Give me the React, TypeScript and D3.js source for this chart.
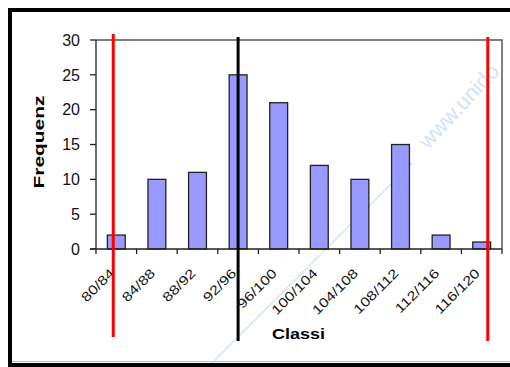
import React from "react";
import * as d3 from "d3";

// Histogram classes and their frequencies
const classes = ["80/84", "84/88", "88/92", "92/96", "96/100", "100/104", "104/108", "108/112", "112/116", "116/120"];
const frequencies = [2, 10, 11, 25, 21, 12, 10, 15, 2, 1];
const yTicks = [0, 5, 10, 15, 20, 25, 30];

// Class range covered by the x axis, and reference lines (lower limit, centre, upper limit)
const classRange = [80, 120];
const markerValues = [81.7, 94.0, 118.6];
const markerColors = ["#ff0000", "#000000", "#ff0000"];

const W = 510;
const H = 367;
const plot = { left: 96, right: 502, top: 40, bottom: 249 };
const FONT = "Arial, 'Liberation Sans', Helvetica, sans-serif";

export default function App() {
  const x = d3.scaleBand<string>().domain(classes).range([plot.left, plot.right]).padding(0);
  const xv = d3.scaleLinear().domain(classRange).range([plot.left, plot.right]);
  const y = d3.scaleLinear().domain([0, 30]).range([plot.bottom, plot.top]);
  const step = x.step();
  const barW = step * 0.44;
  const tickXs = classes.map((c) => x(c) as number).concat([plot.right]);

  return (
    <svg
      width={W}
      height={H}
      style={{ position: "absolute", left: 0, top: 0, background: "#fff" }}
      fontFamily={FONT}
    >
      {/* faint watermark */}
      <line x1={205} y1={370} x2={412} y2={163} stroke="#cfe1f3" strokeWidth={1.2} />
      <text
        transform="translate(428,150) rotate(-47)"
        fontSize={22}
        fill="#d3e4f6"
        fontFamily={FONT}
      >
        www.unido
      </text>

      {/* outer frame */}
      <rect x={10} y={10} width={530} height={355} fill="none" stroke="#000" strokeWidth={4} />
      <line x1={12} y1={361.5} x2={W} y2={361.5} stroke="#bbb" strokeWidth={1} />

      {/* plot area border */}
      <path
        d={`M${plot.left},${plot.top}H${plot.right}V${plot.bottom}`}
        fill="none"
        stroke="#555"
        strokeWidth={1.5}
      />

      {/* bars */}
      {classes.map((c, i) => {
        const cx = (x(c) as number) + step / 2;
        return (
          <rect
            key={c}
            x={cx - barW / 2}
            y={y(frequencies[i])}
            width={barW}
            height={plot.bottom - y(frequencies[i])}
            fill="#9999ff"
            stroke="#222"
            strokeWidth={1.3}
          />
        );
      })}

      {/* y axis */}
      <line x1={plot.left} y1={plot.top} x2={plot.left} y2={plot.bottom} stroke="#222" strokeWidth={1.3} />
      {yTicks.map((t) => (
        <g key={t}>
          <line x1={plot.left - 6} x2={plot.left} y1={y(t)} y2={y(t)} stroke="#222" strokeWidth={1.3} />
          <text x={80} y={y(t)} dy="0.36em" textAnchor="end" fontSize={16} fill="#111">
            {t}
          </text>
        </g>
      ))}

      {/* x axis */}
      <line x1={plot.left - 6} x2={plot.right} y1={plot.bottom} y2={plot.bottom} stroke="#222" strokeWidth={1.3} />
      {tickXs.map((tx, i) => (
        <line key={i} x1={tx} x2={tx} y1={plot.bottom} y2={plot.bottom + 5} stroke="#222" strokeWidth={1.3} />
      ))}
      {classes.map((c) => {
        const cx = (x(c) as number) + step / 2;
        return (
          <text
            key={c}
            transform={`translate(${cx - 1},${plot.bottom + 25}) rotate(-45) scale(1.25,1)`}
            textAnchor="end"
            fontSize={13}
            fill="#111"
          >
            {c}
          </text>
        );
      })}

      {/* axis titles */}
      <text
        transform={`translate(44,142) rotate(-90)`}
        textAnchor="middle"
        fontSize={15}
        fontWeight="bold"
        textLength={93}
        lengthAdjust="spacingAndGlyphs"
        fill="#000"
      >
        Frequenz
      </text>
      <text
        x={298.5}
        y={339}
        textAnchor="middle"
        fontSize={15}
        fontWeight="bold"
        textLength={53}
        lengthAdjust="spacingAndGlyphs"
        fill="#000"
      >
        Classi
      </text>

      {/* reference lines */}
      {markerValues.map((v, i) => (
        <line
          key={i}
          x1={xv(v)}
          x2={xv(v)}
          y1={i === 0 ? 34 : 37}
          y2={i === 0 ? 337 : 341}
          stroke={markerColors[i]}
          strokeWidth={3}
        />
      ))}
    </svg>
  );
}
